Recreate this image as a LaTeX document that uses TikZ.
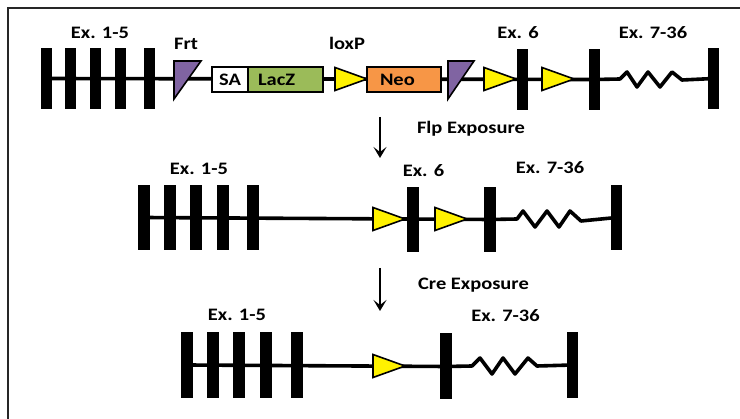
\documentclass[tikz,border=0pt]{standalone}
\usepackage{fontspec}
\setmainfont{Carlito}[FakeStretch=1.17]
\usetikzlibrary{arrows.meta,shapes.geometric,positioning,backgrounds}

\definecolor{frtpurple}{HTML}{8064A2}
\definecolor{laczgreen}{HTML}{9BBB59}
\definecolor{neoorange}{HTML}{F79646}

\begin{document}
\begin{tikzpicture}[x=1pt,y=-1pt,font=\fontsize{17.5}{20}\selectfont\bfseries,
                    exon/.style={fill=black,inner sep=0pt,minimum width=11.5pt,minimum height=#1},
                    exon/.default=61pt,
                    loxp/.style={isosceles triangle,isosceles triangle stretches,draw,fill=yellow,
                                 line width=1.6pt,inner sep=0pt,outer sep=0pt,
                                 minimum width=23pt,minimum height=32pt,anchor=west},
                    cassette/.style={draw,line width=2pt,inner sep=0pt,outer sep=0pt,minimum height=25pt},
                    frt/.style={draw,fill=frtpurple,line width=1.6pt},
                    backbone/.style={line width=3.6pt,line join=round},
                    exposure/.style={line width=2.6pt,-{Stealth[length=11pt,width=13pt,inset=5pt]}}]
  \useasboundingbox (0,0) rectangle (740,419);
  \draw[line width=2pt,black!85] (8,8) rectangle (760,440);

  % targeted allele
  \foreach \x [count=\i] in {46.5,70.5,95.5,120.5,149.5}
    \node[exon] (a\i) at (\x,78.5) {};
  \node[exon] (a6)  at (522.5,79.5) {};
  \node[exon] (a7)  at (594.5,79.5) {};
  \node[exon] (a36) at (713.5,78.5) {};
  \coordinate (za) at (620,79);
  \begin{scope}[on background layer]
    \draw[backbone] (a1.center) -- (a7.center) -- (za) -- ++(7,-7) -- ++(10,15) -- ++(11,-15)
      -- ++(12,15) -- ++(12,-15) -- ++(10,8) -- (a36.center);
  \end{scope}
  \coordinate (frta) at (174,61);
  \draw[frt] (frta) -- ++(27,0) -- ++(-27,38) -- cycle;
  \node[cassette,fill=white,minimum width=36pt] (sa) at (230,79.5) {SA};
  \node[cassette,fill=laczgreen,minimum width=75pt,text width=55pt,align=left,
        right=0pt of sa] (lacz) {LacZ};
  \node[loxp] (loxa) at (335,79) {};
  \node[cassette,fill=neoorange,minimum width=74pt,text width=48pt,align=left] (neo) at (404,79.5) {Neo};
  \coordinate (frtb) at (448,61);
  \draw[frt] (frtb) -- ++(26,0) -- ++(-26,38) -- cycle;
  \node[loxp] (loxb) at (484,79) {};
  \node[loxp] (loxc) at (542,79) {};

  \node[anchor=base] at (100,39) {Ex. 1-5};
  \node[anchor=base] at (186,50) {Frt};
  \node[anchor=base] at (347,50) {loxP};
  \node[anchor=base] at (518,39) {Ex. 6};
  \node[anchor=base] at (653,39) {Ex. 7-36};

  \coordinate (flps) at (380,117);
  \coordinate (flpe) at (380,158);
  \draw[exposure] (flps) -- (flpe);
  \node[anchor=base] (flp) at (471,134) {Flp Exposure};

  % after Flp
  \foreach \x [count=\i] in {144,170,196,223,253}
    \node[exon=65pt] (b\i) at (\x,217.5) {};
  \node[exon=65pt] (b6)  at (413,219.5) {};
  \node[exon=65pt] (b7)  at (490,219.5) {};
  \node[exon=65pt] (b36) at (616.5,217.5) {};
  \coordinate (zb) at (517,219);
  \begin{scope}[on background layer]
    \draw[backbone] (b1.center) -- (b7.center) -- (zb) -- ++(6,-8) -- ++(12,16) -- ++(12,-16)
      -- ++(12,16) -- ++(11,-16) -- ++(11,10) -- (b36.center);
  \end{scope}
  \node[loxp] (loxd) at (373,219) {};
  \node[loxp] (loxe) at (435,219) {};

  \node[anchor=base] at (199,175) {Ex. 1-5};
  \node[anchor=base] at (423.5,177) {Ex. 6};
  \node[anchor=base] at (550,174) {Ex. 7-36};

  \coordinate (cres) at (380,268);
  \coordinate (cree) at (380,311);
  \draw[exposure] (cres) -- (cree);
  \node[anchor=base] (cre) at (473.5,290) {Cre Exposure};

  % after Cre
  \foreach \x [count=\i] in {187,213,239,266,297}
    \node[exon=66pt] (c\i) at (\x,365) {};
  \node[exon=66pt] (c7)  at (446,366.5) {};
  \node[exon=66pt] (c36) at (572.5,365) {};
  \coordinate (zc) at (472,366);
  \begin{scope}[on background layer]
    \draw[backbone] (c1.center) -- (c7.center) -- (zc) -- ++(8,-8) -- ++(12,16) -- ++(11,-16)
      -- ++(12,16) -- ++(13,-16) -- ++(9,8) -- (c36.center);
  \end{scope}
  \node[loxp] (loxf) at (373,366) {};

  \node[anchor=base] at (237,321) {Ex. 1-5};
  \node[anchor=base] at (505.5,322) {Ex. 7-36};
\end{tikzpicture}
\end{document}
